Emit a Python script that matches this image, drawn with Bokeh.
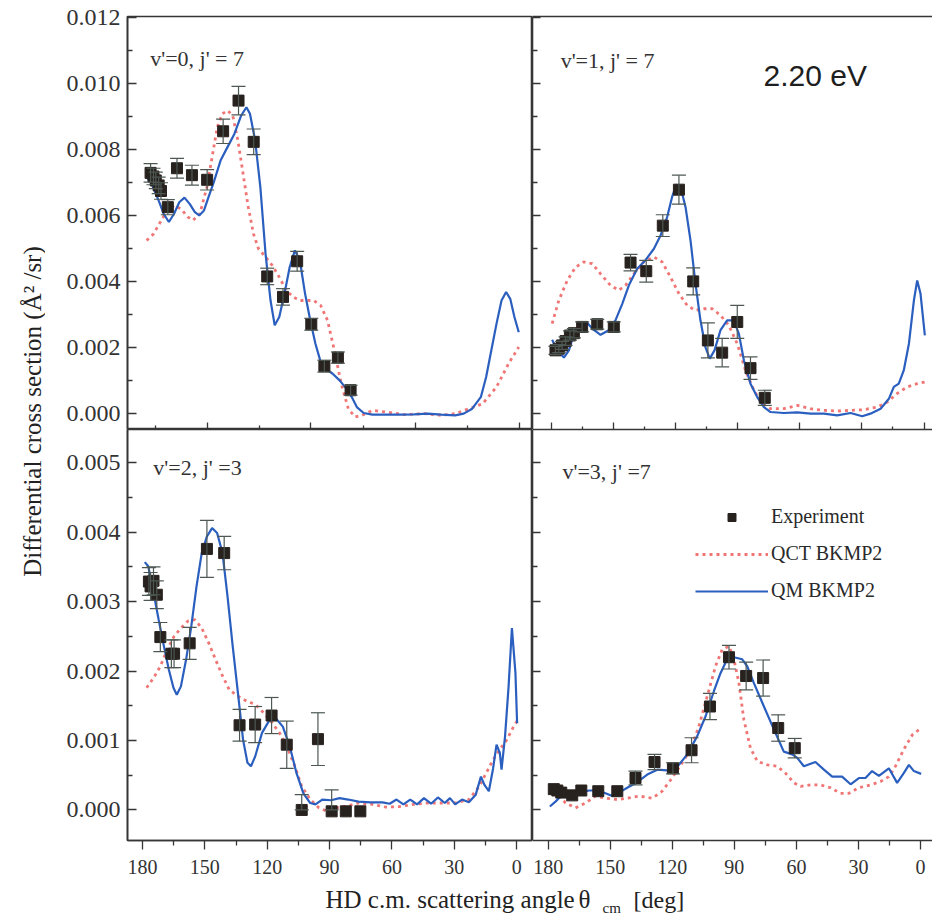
from bokeh.plotting import figure
from bokeh.layouts import row, column
from bokeh.models import (Range1d, LinearAxis, FixedTicker, NumeralTickFormatter, Whisker, TeeHead,
                          ColumnDataSource, Label, Legend, LegendItem)
from bokeh.embed import file_html
from bokeh.resources import INLINE

# ---------------- data (angle in deg, DCS in A^2/sr) ----------------
# v'=0, j'=7
TL_EXP_ANGLE = [176.1, 174.7, 173.6, 172.2, 171.1, 167.8, 163.4, 156.2, 148.9, 141.2, 133.8, 126.5,
                120.0, 112.4, 105.6, 98.8, 92.5, 86.0, 79.9]
TL_EXP_DCS = [0.00730, 0.00719, 0.00707, 0.00692, 0.00675, 0.00626, 0.00744, 0.00723, 0.00709, 0.00856,
              0.00949, 0.00824, 0.00416, 0.00354, 0.00462, 0.00271, 0.00144, 0.00170, 0.00071]
TL_EXP_ERR = [0.00028, 0.00025, 0.00025, 0.00025, 0.00025, 0.00023, 0.00030, 0.00030, 0.00031, 0.00037,
              0.00043, 0.00039, 0.00025, 0.00025, 0.00030, 0.00018, 0.00018, 0.00017, 0.00015]
TL_QM_ANGLE = [178.0, 175.6, 172.2, 169.8, 167.3, 164.8, 162.3, 159.8, 157.3, 154.8, 152.7, 150.4, 148.2,
               145.7, 142.4, 139.1, 135.8, 132.5, 130.0, 128.3, 125.8, 123.3, 120.8, 118.4, 116.4, 114.2,
               111.7, 109.2, 106.7, 104.3, 101.8, 99.3, 96.8, 94.3, 91.8, 88.5, 85.2, 81.9, 79.4, 76.9,
               73.6, 69.4, 62.8, 56.2, 49.5, 42.9, 36.3, 29.6, 25.5, 21.4, 17.2, 14.7, 12.2, 9.7, 7.3,
               5.1, 3.1, 1.1, -1.0]
TL_QM_DCS = [0.00717, 0.00697, 0.00646, 0.00606, 0.00581, 0.00606, 0.00641, 0.00655, 0.00636, 0.00611,
             0.00601, 0.00616, 0.00657, 0.00702, 0.00768, 0.00808, 0.00848, 0.00904, 0.00929, 0.00909,
             0.00828, 0.00687, 0.00485, 0.00343, 0.00268, 0.00293, 0.00364, 0.00444, 0.00495, 0.00465,
             0.00364, 0.00283, 0.00212, 0.00157, 0.00136, 0.00121, 0.00101, 0.00076, 0.00051, 0.00020,
             0.00002, -0.00003, -0.00003, -0.00003, -0.00002, 0.00000, -0.00003, -0.00005, 0.00000, 0.00015,
             0.00051, 0.00111, 0.00192, 0.00273, 0.00343, 0.00369, 0.00348, 0.00293, 0.00247]
TL_QCT_ANGLE = [178.0, 174.7, 171.4, 168.1, 164.8, 161.5, 158.1, 155.7, 152.4, 149.0, 146.5, 144.0, 141.6,
                139.1, 136.6, 134.1, 131.6, 129.1, 126.6, 124.2, 120.8, 117.5, 114.2, 110.9, 107.5, 104.3,
                100.9, 97.6, 94.3, 91.0, 87.7, 84.4, 81.0, 77.7, 74.4, 69.4, 62.8, 54.5, 44.5, 36.3, 29.6,
                23.0, 16.4, 9.7, 3.9, -1.0]
TL_QCT_DCS = [0.00525, 0.00545, 0.00581, 0.00616, 0.00631, 0.00621, 0.00596, 0.00586, 0.00606, 0.00687,
              0.00778, 0.00869, 0.00909, 0.00919, 0.00904, 0.00828, 0.00727, 0.00626, 0.00545, 0.00500,
              0.00475, 0.00449, 0.00414, 0.00374, 0.00354, 0.00343, 0.00343, 0.00343, 0.00328, 0.00283,
              0.00192, 0.00091, 0.00015, -0.00010, -0.00005, 0.00010, 0.00005, -0.00003, 0.00000, -0.00005,
              0.00000, 0.00015, 0.00030, 0.00081, 0.00152, 0.00202]

# v'=1, j'=7
TR_EXP_ANGLE = [176.5, 174.9, 173.3, 171.6, 169.5, 167.6, 163.6, 156.3, 148.3, 140.2, 132.6, 124.6,
                116.8, 109.9, 102.8, 95.9, 88.6, 82.2, 75.3]
TR_EXP_DCS = [0.00192, 0.00197, 0.00207, 0.00220, 0.00237, 0.00244, 0.00263, 0.00271, 0.00263, 0.00458,
              0.00432, 0.00570, 0.00679, 0.00401, 0.00222, 0.00185, 0.00278, 0.00138, 0.00048]
TR_EXP_ERR = [0.00012, 0.00012, 0.00012, 0.00013, 0.00014, 0.00014, 0.00015, 0.00015, 0.00015, 0.00025,
              0.00033, 0.00033, 0.00044, 0.00041, 0.00053, 0.00043, 0.00050, 0.00034, 0.00023]
TR_QM_ANGLE = [178.1, 175.7, 172.4, 170.0, 167.6, 164.4, 161.5, 158.7, 154.7, 150.7, 147.5, 144.2, 141.0,
               137.0, 133.0, 128.9, 125.7, 122.5, 120.1, 118.1, 116.0, 113.6, 111.2, 108.8, 106.4, 104.0,
               101.9, 99.6, 96.7, 93.5, 90.3, 87.8, 85.4, 82.2, 79.0, 75.7, 72.5, 66.1, 59.6, 53.2, 46.7,
               40.3, 33.8, 28.2, 24.2, 19.3, 15.3, 12.9, 10.5, 8.1, 5.6, 3.2, 1.6, 0.0, -2.1]
TR_QM_DCS = [0.00224, 0.00192, 0.00170, 0.00192, 0.00242, 0.00268, 0.00278, 0.00258, 0.00239, 0.00253,
             0.00283, 0.00333, 0.00389, 0.00439, 0.00465, 0.00500, 0.00540, 0.00596, 0.00657, 0.00694,
             0.00687, 0.00626, 0.00525, 0.00394, 0.00283, 0.00202, 0.00167, 0.00192, 0.00253, 0.00283,
             0.00283, 0.00242, 0.00162, 0.00091, 0.00051, 0.00020, 0.00005, 0.00002, 0.00004, 0.00000,
             0.00000, -0.00005, 0.00002, -0.00008, 0.00000, 0.00015, 0.00045, 0.00081, 0.00091, 0.00131,
             0.00212, 0.00343, 0.00404, 0.00364, 0.00237]
TR_QCT_ANGLE = [178.1, 174.9, 170.8, 166.8, 162.8, 158.7, 154.7, 149.9, 145.9, 142.6, 138.6, 133.8, 128.9,
                124.9, 120.9, 116.8, 112.8, 108.8, 104.8, 100.7, 96.7, 92.7, 88.6, 84.6, 80.6, 76.6, 72.5,
                66.1, 59.6, 53.2, 46.7, 40.3, 33.8, 27.4, 20.9, 16.1, 11.3, 6.4, 1.6, -2.1]
TR_QCT_DCS = [0.00273, 0.00343, 0.00404, 0.00444, 0.00460, 0.00455, 0.00424, 0.00389, 0.00374, 0.00389,
              0.00424, 0.00460, 0.00475, 0.00460, 0.00414, 0.00364, 0.00328, 0.00313, 0.00318, 0.00318,
              0.00298, 0.00268, 0.00212, 0.00131, 0.00071, 0.00030, 0.00015, 0.00015, 0.00025, 0.00015,
              0.00010, 0.00008, 0.00010, 0.00012, 0.00020, 0.00035, 0.00061, 0.00081, 0.00091, 0.00096]

# v'=2, j'=3
BL_EXP_ANGLE = [176.9, 176.1, 174.7, 173.1, 171.4, 166.1, 164.8, 157.3, 149.0, 140.7, 133.3, 125.8,
                117.9, 110.6, 103.4, 95.6, 89.0, 82.2, 75.2]
BL_EXP_DCS = [0.00329, 0.00322, 0.00330, 0.00310, 0.00249, 0.00225, 0.00225, 0.00240, 0.00376, 0.00370,
              0.00122, 0.00123, 0.00136, 0.00094, 0.00000, 0.00102, -0.00002, -0.00002, -0.00002]
BL_EXP_ERR = [0.00020, 0.00020, 0.00020, 0.00020, 0.00021, 0.00020, 0.00020, 0.00023, 0.00041, 0.00024,
              0.00023, 0.00026, 0.00026, 0.00034, 0.00022, 0.00038, 0.00031, 0.00000, 0.00000]
BL_QM_ANGLE = [178.9, 177.2, 174.7, 172.2, 169.7, 167.3, 165.1, 163.5, 161.5, 159.0, 156.5, 154.0, 151.5,
               149.0, 146.5, 144.1, 141.5, 139.1, 136.6, 134.1, 131.6, 129.5, 127.8, 125.8, 122.5, 119.2,
               115.9, 112.5, 109.2, 105.9, 102.6, 99.3, 96.8, 93.5, 89.3, 85.2, 81.0, 76.1, 70.3, 64.5,
               61.1, 57.8, 54.5, 51.2, 47.9, 44.6, 41.2, 37.9, 34.6, 32.1, 29.6, 26.3, 23.0, 19.7, 17.2,
               15.5, 13.4, 11.4, 9.7, 8.1, 7.3, 5.6, 3.9, 2.3, 0.6, -0.2]
BL_QM_DCS = [0.00357, 0.00351, 0.00313, 0.00274, 0.00236, 0.00202, 0.00176, 0.00166, 0.00178, 0.00217,
             0.00265, 0.00322, 0.00370, 0.00394, 0.00406, 0.00399, 0.00370, 0.00308, 0.00236, 0.00169,
             0.00101, 0.00068, 0.00063, 0.00077, 0.00111, 0.00128, 0.00132, 0.00120, 0.00092, 0.00053,
             0.00024, 0.00010, 0.00008, 0.00015, 0.00014, 0.00017, 0.00015, 0.00012, 0.00011, 0.00011,
             0.00009, 0.00015, 0.00008, 0.00015, 0.00008, 0.00017, 0.00009, 0.00018, 0.00010, 0.00017,
             0.00008, 0.00015, 0.00011, 0.00022, 0.00048, 0.00036, 0.00027, 0.00059, 0.00094, 0.00082,
             0.00058, 0.00106, 0.00178, 0.00262, 0.00197, 0.00125]
BL_QCT_ANGLE = [178.0, 174.7, 171.4, 168.1, 164.8, 161.5, 158.1, 154.8, 151.5, 148.2, 144.9, 141.5, 138.2,
                134.1, 130.0, 125.8, 121.7, 117.5, 113.4, 110.0, 106.7, 103.4, 99.3, 95.1, 91.0, 86.8, 82.7,
                76.1, 69.4, 62.8, 56.2, 49.5, 42.9, 36.3, 29.6, 23.0, 18.0, 14.7, 11.4, 8.1, 4.8, 1.5, -0.2]
BL_QCT_DCS = [0.00176, 0.00190, 0.00207, 0.00231, 0.00250, 0.00262, 0.00272, 0.00274, 0.00262, 0.00241,
              0.00217, 0.00193, 0.00173, 0.00164, 0.00157, 0.00152, 0.00140, 0.00125, 0.00108, 0.00087,
              0.00063, 0.00034, 0.00015, 0.00003, -0.00002, 0.00003, 0.00005, 0.00010, 0.00008, 0.00004,
              0.00005, 0.00008, 0.00010, 0.00010, 0.00010, 0.00015, 0.00034, 0.00053, 0.00072, 0.00087,
              0.00101, 0.00120, 0.00128]

# v'=3, j'=7
BR_EXP_ANGLE = [177.3, 175.6, 173.7, 168.4, 164.0, 155.8, 146.6, 137.8, 128.6, 119.7, 110.7, 101.8,
                92.6, 84.3, 76.1, 68.8, 60.8]
BR_EXP_DCS = [0.00030, 0.00028, 0.00025, 0.00021, 0.00028, 0.00027, 0.00027, 0.00046, 0.00069, 0.00060,
              0.00086, 0.00149, 0.00220, 0.00193, 0.00190, 0.00118, 0.00089]
BR_EXP_ERR = [0.00000, 0.00000, 0.00000, 0.00000, 0.00000, 0.00000, 0.00000, 0.00010, 0.00011, 0.00008,
              0.00018, 0.00019, 0.00017, 0.00020, 0.00026, 0.00019, 0.00014]
BR_QM_ANGLE = [179.2, 176.5, 173.2, 169.2, 164.4, 160.3, 156.3, 152.3, 149.0, 145.8, 141.8, 137.0, 132.1,
               127.3, 122.5, 117.6, 112.8, 108.0, 103.9, 99.9, 96.7, 93.5, 90.2, 86.2, 83.8, 80.6, 75.7,
               70.9, 66.1, 62.0, 59.6, 56.4, 50.8, 46.7, 42.7, 37.9, 33.8, 29.8, 26.6, 23.4, 20.1, 15.3,
               11.3, 8.1, 5.6, 3.2, -0.3]
BR_QM_DCS = [0.00005, 0.00012, 0.00022, 0.00027, 0.00025, 0.00028, 0.00028, 0.00024, 0.00020, 0.00025,
             0.00032, 0.00040, 0.00051, 0.00058, 0.00057, 0.00062, 0.00080, 0.00106, 0.00135, 0.00171,
             0.00197, 0.00217, 0.00220, 0.00217, 0.00207, 0.00183, 0.00149, 0.00116, 0.00084, 0.00080,
             0.00075, 0.00063, 0.00069, 0.00058, 0.00048, 0.00048, 0.00037, 0.00046, 0.00046, 0.00056,
             0.00049, 0.00060, 0.00039, 0.00053, 0.00065, 0.00056, 0.00052]
BR_QCT_ANGLE = [179.2, 175.6, 171.6, 166.8, 161.9, 157.1, 152.3, 146.6, 141.8, 136.2, 129.7, 124.9, 120.1,
                115.2, 111.2, 107.2, 103.1, 99.1, 95.9, 92.6, 90.2, 87.8, 85.4, 82.2, 78.9, 74.1, 69.3,
                65.3, 61.2, 58.0, 53.2, 48.3, 43.5, 38.7, 34.6, 29.8, 24.2, 19.3, 15.3, 12.1, 8.1, 4.0, -0.3]
BR_QCT_DCS = [0.00036, 0.00024, 0.00010, 0.00003, 0.00010, 0.00020, 0.00017, 0.00015, 0.00017, 0.00020,
              0.00017, 0.00027, 0.00046, 0.00068, 0.00087, 0.00120, 0.00164, 0.00207, 0.00231, 0.00236,
              0.00217, 0.00183, 0.00130, 0.00089, 0.00070, 0.00065, 0.00063, 0.00053, 0.00039, 0.00034,
              0.00036, 0.00036, 0.00032, 0.00024, 0.00024, 0.00032, 0.00036, 0.00041, 0.00048, 0.00063,
              0.00087, 0.00108, 0.00118]

# ticks
X_MAJOR = [180, 150, 120, 90, 60, 30, 0]
X_MINOR = [165, 135, 105, 75, 45, 15]
TL_EDGE_MAJOR = [148.7, 99.2, 48.7, -1.4]
TL_EDGE_MINOR = [173.5, 123.8, 73.6, 23.8]
TR_EDGE_MAJOR = [178.3, 148.3, 118.3, 88.3, 58.3, 28.3, -1.7]
TR_EDGE_MINOR = [163.3, 133.3, 103.3, 73.3, 43.3, 13.3]
Y_TOP_MAJOR = [0.000, 0.002, 0.004, 0.006, 0.008, 0.010, 0.012]
Y_TOP_MINOR = [0.001, 0.003, 0.005, 0.007, 0.009, 0.011]
Y_BOT_MAJOR = [0.000, 0.001, 0.002, 0.003, 0.004, 0.005]
Y_BOT_MINOR = [0.0005, 0.0015, 0.0025, 0.0035, 0.0045]

LABELS = ["v'=0, j' = 7", "v'=1, j' = 7", "v'=2, j' =3", "v'=3, j' =7"]

# ---------------- style ----------------
SERIF = "Liberation Serif"
AXC = "#363636"
QM_COLOR = "#2b5fbf"
QCT_COLOR = "#f07676"
EXP_COLOR = "#28221f"
ERR_COLOR = "#4d5853"

X_LEFT = (187.2, -7.6)
X_RIGHT = (187.6, -5.8)
Y_TOP = (-0.00048, 0.01204)
Y_BOT = (-0.00044, 0.00548)


def make_panel(fw, fh, xr, yr, ml, mt, mb, outline):
    p = figure(frame_width=fw, frame_height=fh, x_range=Range1d(*xr), y_range=Range1d(*yr),
               min_border_left=ml, min_border_right=0, min_border_top=mt, min_border_bottom=mb,
               output_backend="svg", toolbar_location=None)
    p.xgrid.visible = False
    p.ygrid.visible = False
    if outline:
        p.outline_line_color = AXC
        p.outline_line_width = 1.6
        p.outline_line_alpha = 1.0
    else:
        p.outline_line_color = None
    return p


def set_axis(ax, major, minor, mj_in, mj_out, mn_in, mn_out, show, size="20px", standoff=5, fmt=None):
    ax.ticker = FixedTicker(ticks=major, minor_ticks=minor)
    ax.major_tick_in = mj_in
    ax.major_tick_out = mj_out
    ax.minor_tick_in = mn_in
    ax.minor_tick_out = mn_out
    ax.axis_line_color = AXC
    ax.axis_line_width = 1.6
    ax.major_tick_line_color = AXC
    ax.major_tick_line_width = 1.3
    ax.minor_tick_line_color = AXC
    ax.minor_tick_line_width = 1.3
    if fmt is not None:
        ax.formatter = fmt
    if show:
        ax.major_label_text_font = SERIF
        ax.major_label_text_font_size = size
        ax.major_label_text_color = "#333333"
        ax.major_label_standoff = standoff
    else:
        ax.major_label_text_color = None
        ax.major_label_standoff = 0


def draw(p, ea, ed, ee, qa, qd, ma, md):
    r_qct = p.line(qa, qd, line_color=QCT_COLOR, line_width=2.8, line_dash="3 4")
    r_qm = p.line(ma, md, line_color=QM_COLOR, line_width=2.2)
    xs, lo, hi = [], [], []
    for a, d, e in zip(ea, ed, ee):
        if e > 0:
            xs.append(a)
            lo.append(max(d - e, 0.0))
            hi.append(d + e)
    src = ColumnDataSource(dict(x=xs, lo=lo, hi=hi))
    w = Whisker(source=src, base="x", lower="lo", upper="hi", dimension="height",
                line_color=ERR_COLOR, line_width=1.2, level="glyph",
                upper_head=TeeHead(size=14, line_color=ERR_COLOR, line_width=1.2),
                lower_head=TeeHead(size=14, line_color=ERR_COLOR, line_width=1.2))
    p.add_layout(w)
    r_exp = p.scatter(ea, ed, marker="square", size=11, fill_color=EXP_COLOR, line_color=EXP_COLOR)
    return r_exp, r_qct, r_qm


def panel_label(p, x, y, text):
    p.add_layout(Label(x=x, y=y, text=text, text_font=SERIF, text_font_size="22px",
                       text_color="#333333", text_align="left", text_baseline="middle"))


yfmt = NumeralTickFormatter(format="0.000")

# top-left
tl = make_panel(405, 413, X_LEFT, Y_TOP, 82, 16, 0, True)
set_axis(tl.yaxis[0], Y_TOP_MAJOR, Y_TOP_MINOR, 9, 0, 5, 0, True, "24px", 7, yfmt)
set_axis(tl.xaxis[0], TL_EDGE_MAJOR, TL_EDGE_MINOR, 7, 0, 4, 0, False)
draw(tl, TL_EXP_ANGLE, TL_EXP_DCS, TL_EXP_ERR, TL_QCT_ANGLE, TL_QCT_DCS, TL_QM_ANGLE, TL_QM_DCS)
panel_label(tl, 176.3, 0.01077, LABELS[0])

# top-right
tr = make_panel(400, 413, X_RIGHT, Y_TOP, 0, 16, 0, False)
set_axis(tr.yaxis[0], Y_TOP_MAJOR, Y_TOP_MINOR, 8, 0, 5, 0, False)
set_axis(tr.xaxis[0], TR_EDGE_MAJOR, TR_EDGE_MINOR, 7, 0, 3, 0, False)
tr_top = LinearAxis()
set_axis(tr_top, [], [], 0, 0, 0, 0, False)
tr.add_layout(tr_top, "above")
draw(tr, TR_EXP_ANGLE, TR_EXP_DCS, TR_EXP_ERR, TR_QCT_ANGLE, TR_QCT_DCS, TR_QM_ANGLE, TR_QM_DCS)
panel_label(tr, 174.0, 0.0107, LABELS[1])
tr.add_layout(Label(x=75.9, y=0.01025, text="2.20 eV", text_font="Liberation Sans", text_font_size="30px",
                    text_color="#1e1e1e", text_align="left", text_baseline="middle"))

# bottom-left
bl = make_panel(405, 411, X_LEFT, Y_BOT, 82, 0, 40, True)
set_axis(bl.yaxis[0], Y_BOT_MAJOR, Y_BOT_MINOR, 9, 0, 5, 0, True, "24px", 7, yfmt)
set_axis(bl.xaxis[0], X_MAJOR, X_MINOR, 0, 9, 0, 5, True, "20px", 10)
draw(bl, BL_EXP_ANGLE, BL_EXP_DCS, BL_EXP_ERR, BL_QCT_ANGLE, BL_QCT_DCS, BL_QM_ANGLE, BL_QM_DCS)
panel_label(bl, 174.8, 0.00493, LABELS[2])

# bottom-right
br = make_panel(400, 411, X_RIGHT, Y_BOT, 0, 0, 40, False)
set_axis(br.yaxis[0], Y_BOT_MAJOR, Y_BOT_MINOR, 8, 0, 5, 0, False)
set_axis(br.xaxis[0], X_MAJOR, X_MINOR, 0, 9, 0, 5, True, "20px", 10)
br_top = LinearAxis()
set_axis(br_top, [], [], 0, 0, 0, 0, False)
br.add_layout(br_top, "above")
r_exp, r_qct, r_qm = draw(br, BR_EXP_ANGLE, BR_EXP_DCS, BR_EXP_ERR, BR_QCT_ANGLE, BR_QCT_DCS,
                          BR_QM_ANGLE, BR_QM_DCS)
panel_label(br, 173.1, 0.00487, LABELS[3])
legend = Legend(items=[LegendItem(label="Experiment", renderers=[r_exp]),
                       LegendItem(label="QCT BKMP2", renderers=[r_qct]),
                       LegendItem(label="QM BKMP2", renderers=[r_qm])],
                location=(163, 238), glyph_width=73, glyph_height=20, label_standoff=3, spacing=14,
                padding=0, margin=0, border_line_color=None, background_fill_alpha=0,
                label_text_font=SERIF, label_text_font_size="20px", label_text_color="#2a2a2a")
br.add_layout(legend)

# y title
yfig = figure(width=45, height=880, min_border=0, x_axis_type=None, y_axis_type=None,
              output_backend="svg", toolbar_location=None, outline_line_color=None)
yfig.grid.visible = False
yfig.add_layout(Label(x=31.7, y=469, x_units="screen", y_units="screen",
                      text="Differential cross section (\u00c5\u00b2 /sr)", angle=90, angle_units="deg",
                      text_align="center", text_baseline="middle", text_font=SERIF,
                      text_font_size="25px", text_color="#222222"))

# x title
xfig = figure(width=932, height=42, min_border=0, x_axis_type=None, y_axis_type=None,
              output_backend="svg", toolbar_location=None, outline_line_color=None)
xfig.grid.visible = False
for xx, yy, txt, fs in [(325, 23, "HD c.m. scattering angle", "25px"), (578, 23, "\u03b8", "25px"),
                        (602, 15, "cm", "15px"), (633, 23, "[deg]", "24px")]:
    xfig.add_layout(Label(x=xx, y=yy, x_units="screen", y_units="screen", text=txt,
                          text_align="left", text_baseline="middle", text_font=SERIF,
                          text_font_size=fs, text_color="#222222"))

grid = column(row(tl, tr), row(bl, br))
page = column(row(yfig, grid), xfig)

open("out.html", "w").write(file_html(page, INLINE))
